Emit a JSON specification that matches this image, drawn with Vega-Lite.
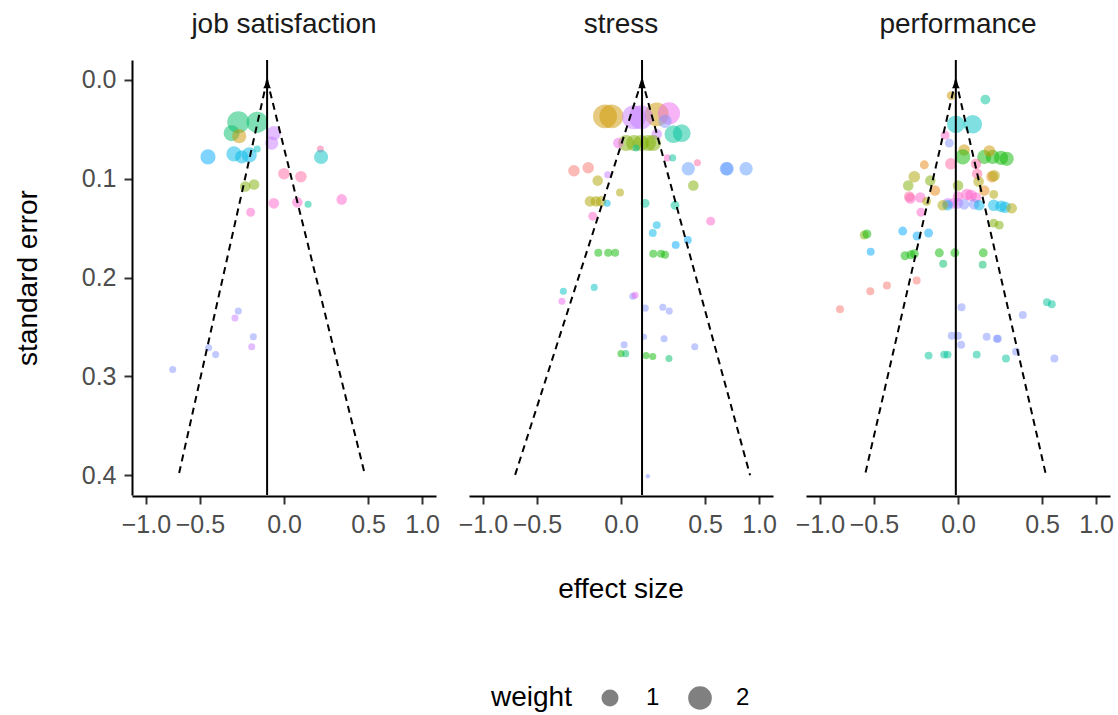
{
  "$schema": "https://vega.github.io/schema/vega-lite/v6.json",
  "padding": {"left": 14, "top": 11, "right": 5, "bottom": 5},
  "data": {"values": [
    {"panel":"job satisfaction","kind":"study","effect":-0.213,"se":0.043,"weight":1.74,"group":"g07"},
    {"panel":"job satisfaction","kind":"study","effect":-0.101,"se":0.043,"weight":1.60,"group":"g07"},
    {"panel":"job satisfaction","kind":"study","effect":-0.258,"se":0.054,"weight":0.87,"group":"g07"},
    {"panel":"job satisfaction","kind":"study","effect":-0.207,"se":0.057,"weight":0.67,"group":"g03"},
    {"panel":"job satisfaction","kind":"study","effect":-0.026,"se":0.054,"weight":0.67,"group":"g13"},
    {"panel":"job satisfaction","kind":"study","effect":-0.034,"se":0.064,"weight":0.58,"group":"g13"},
    {"panel":"job satisfaction","kind":"study","effect":-0.434,"se":0.078,"weight":0.77,"group":"g11"},
    {"panel":"job satisfaction","kind":"study","effect":-0.242,"se":0.075,"weight":0.77,"group":"g10"},
    {"panel":"job satisfaction","kind":"study","effect":-0.191,"se":0.078,"weight":0.58,"group":"g10"},
    {"panel":"job satisfaction","kind":"study","effect":-0.145,"se":0.076,"weight":0.77,"group":"g10"},
    {"panel":"job satisfaction","kind":"study","effect":-0.101,"se":0.070,"weight":0.11,"group":"g09"},
    {"panel":"job satisfaction","kind":"study","effect":0.155,"se":0.070,"weight":0.11,"group":"g16"},
    {"panel":"job satisfaction","kind":"study","effect":0.159,"se":0.078,"weight":0.67,"group":"g09"},
    {"panel":"job satisfaction","kind":"study","effect":0.000,"se":0.095,"weight":0.42,"group":"g16"},
    {"panel":"job satisfaction","kind":"study","effect":0.053,"se":0.098,"weight":0.42,"group":"g16"},
    {"panel":"job satisfaction","kind":"study","effect":-0.169,"se":0.108,"weight":0.34,"group":"g05"},
    {"panel":"job satisfaction","kind":"study","effect":-0.118,"se":0.106,"weight":0.34,"group":"g05"},
    {"panel":"job satisfaction","kind":"study","effect":-0.026,"se":0.125,"weight":0.34,"group":"g15"},
    {"panel":"job satisfaction","kind":"study","effect":0.038,"se":0.124,"weight":0.34,"group":"g15"},
    {"panel":"job satisfaction","kind":"study","effect":0.087,"se":0.126,"weight":0.11,"group":"g08"},
    {"panel":"job satisfaction","kind":"study","effect":0.295,"se":0.121,"weight":0.34,"group":"g15"},
    {"panel":"job satisfaction","kind":"study","effect":-0.137,"se":0.134,"weight":0.22,"group":"g15"},
    {"panel":"job satisfaction","kind":"study","effect":-0.213,"se":0.234,"weight":0.11,"group":"g12"},
    {"panel":"job satisfaction","kind":"study","effect":-0.235,"se":0.241,"weight":0.11,"group":"g13"},
    {"panel":"job satisfaction","kind":"study","effect":-0.122,"se":0.260,"weight":0.11,"group":"g12"},
    {"panel":"job satisfaction","kind":"study","effect":-0.131,"se":0.270,"weight":0.11,"group":"g13"},
    {"panel":"job satisfaction","kind":"study","effect":-0.429,"se":0.271,"weight":0.11,"group":"g12"},
    {"panel":"job satisfaction","kind":"study","effect":-0.374,"se":0.278,"weight":0.11,"group":"g12"},
    {"panel":"job satisfaction","kind":"study","effect":-0.740,"se":0.293,"weight":0.11,"group":"g12"},

    {"panel":"stress","kind":"study","effect":-0.049,"se":0.037,"weight":2.05,"group":"g03"},
    {"panel":"stress","kind":"study","effect":-0.024,"se":0.037,"weight":2.05,"group":"g03"},
    {"panel":"stress","kind":"study","effect":0.151,"se":0.035,"weight":2.05,"group":"g03"},
    {"panel":"stress","kind":"study","effect":0.228,"se":0.034,"weight":1.74,"group":"g14"},
    {"panel":"stress","kind":"study","effect":0.037,"se":0.038,"weight":2.05,"group":"g13"},
    {"panel":"stress","kind":"study","effect":0.067,"se":0.038,"weight":2.05,"group":"g13"},
    {"panel":"stress","kind":"study","effect":0.202,"se":0.042,"weight":0.58,"group":"g12"},
    {"panel":"stress","kind":"study","effect":0.317,"se":0.054,"weight":1.09,"group":"g08"},
    {"panel":"stress","kind":"study","effect":0.258,"se":0.055,"weight":1.09,"group":"g08"},
    {"panel":"stress","kind":"study","effect":0.151,"se":0.055,"weight":0.34,"group":"g13"},
    {"panel":"stress","kind":"study","effect":0.010,"se":0.064,"weight":0.87,"group":"g05"},
    {"panel":"stress","kind":"study","effect":0.037,"se":0.064,"weight":0.87,"group":"g05"},
    {"panel":"stress","kind":"study","effect":0.067,"se":0.064,"weight":0.87,"group":"g05"},
    {"panel":"stress","kind":"study","effect":0.102,"se":0.064,"weight":0.87,"group":"g05"},
    {"panel":"stress","kind":"study","effect":0.130,"se":0.064,"weight":0.87,"group":"g05"},
    {"panel":"stress","kind":"study","effect":-0.004,"se":0.064,"weight":0.34,"group":"g14"},
    {"panel":"stress","kind":"study","effect":0.045,"se":0.069,"weight":0.11,"group":"g08"},
    {"panel":"stress","kind":"study","effect":0.217,"se":0.079,"weight":0.11,"group":"g15"},
    {"panel":"stress","kind":"study","effect":0.253,"se":0.079,"weight":0.11,"group":"g08"},
    {"panel":"stress","kind":"study","effect":-0.222,"se":0.092,"weight":0.42,"group":"g01"},
    {"panel":"stress","kind":"study","effect":-0.134,"se":0.089,"weight":0.42,"group":"g01"},
    {"panel":"stress","kind":"study","effect":-0.038,"se":0.096,"weight":0.11,"group":"g13"},
    {"panel":"stress","kind":"study","effect":-0.083,"se":0.102,"weight":0.34,"group":"g04"},
    {"panel":"stress","kind":"study","effect":-0.001,"se":0.114,"weight":0.16,"group":"g04"},
    {"panel":"stress","kind":"study","effect":-0.124,"se":0.123,"weight":0.34,"group":"g04"},
    {"panel":"stress","kind":"study","effect":-0.092,"se":0.123,"weight":0.34,"group":"g04"},
    {"panel":"stress","kind":"study","effect":-0.067,"se":0.123,"weight":0.34,"group":"g04"},
    {"panel":"stress","kind":"study","effect":-0.040,"se":0.125,"weight":0.11,"group":"g10"},
    {"panel":"stress","kind":"study","effect":0.087,"se":0.125,"weight":0.22,"group":"g08"},
    {"panel":"stress","kind":"study","effect":0.269,"se":0.127,"weight":0.22,"group":"g08"},
    {"panel":"stress","kind":"study","effect":-0.109,"se":0.138,"weight":0.22,"group":"g15"},
    {"panel":"stress","kind":"study","effect":0.366,"se":0.090,"weight":0.58,"group":"g17"},
    {"panel":"stress","kind":"study","effect":0.437,"se":0.084,"weight":0.11,"group":"g16"},
    {"panel":"stress","kind":"study","effect":0.685,"se":0.090,"weight":0.58,"group":"g17"},
    {"panel":"stress","kind":"study","effect":0.693,"se":0.090,"weight":0.58,"group":"g17"},
    {"panel":"stress","kind":"study","effect":0.871,"se":0.090,"weight":0.58,"group":"g17"},
    {"panel":"stress","kind":"study","effect":0.405,"se":0.107,"weight":0.34,"group":"g05"},
    {"panel":"stress","kind":"study","effect":0.547,"se":0.143,"weight":0.22,"group":"g15"},
    {"panel":"stress","kind":"study","effect":0.151,"se":0.147,"weight":0.16,"group":"g10"},
    {"panel":"stress","kind":"study","effect":0.128,"se":0.155,"weight":0.16,"group":"g10"},
    {"panel":"stress","kind":"study","effect":0.362,"se":0.162,"weight":0.16,"group":"g11"},
    {"panel":"stress","kind":"study","effect":0.274,"se":0.167,"weight":0.16,"group":"g11"},
    {"panel":"stress","kind":"study","effect":-0.080,"se":0.175,"weight":0.16,"group":"g06"},
    {"panel":"stress","kind":"study","effect":-0.036,"se":0.175,"weight":0.16,"group":"g06"},
    {"panel":"stress","kind":"study","effect":-0.012,"se":0.175,"weight":0.16,"group":"g06"},
    {"panel":"stress","kind":"study","effect":0.131,"se":0.176,"weight":0.16,"group":"g06"},
    {"panel":"stress","kind":"study","effect":0.177,"se":0.176,"weight":0.16,"group":"g06"},
    {"panel":"stress","kind":"study","effect":0.202,"se":0.177,"weight":0.16,"group":"g06"},
    {"panel":"stress","kind":"study","effect":-0.295,"se":0.214,"weight":0.11,"group":"g09"},
    {"panel":"stress","kind":"study","effect":-0.101,"se":0.210,"weight":0.11,"group":"g09"},
    {"panel":"stress","kind":"study","effect":-0.305,"se":0.224,"weight":0.11,"group":"g14"},
    {"panel":"stress","kind":"study","effect":0.032,"se":0.219,"weight":0.11,"group":"g12"},
    {"panel":"stress","kind":"study","effect":0.041,"se":0.218,"weight":0.11,"group":"g14"},
    {"panel":"stress","kind":"study","effect":0.088,"se":0.231,"weight":0.11,"group":"g12"},
    {"panel":"stress","kind":"study","effect":0.188,"se":0.230,"weight":0.11,"group":"g12"},
    {"panel":"stress","kind":"study","effect":0.230,"se":0.234,"weight":0.11,"group":"g12"},
    {"panel":"stress","kind":"study","effect":0.082,"se":0.260,"weight":0.06,"group":"g12"},
    {"panel":"stress","kind":"study","effect":0.196,"se":0.262,"weight":0.11,"group":"g12"},
    {"panel":"stress","kind":"study","effect":0.005,"se":0.268,"weight":0.11,"group":"g12"},
    {"panel":"stress","kind":"study","effect":0.416,"se":0.270,"weight":0.11,"group":"g12"},
    {"panel":"stress","kind":"study","effect":0.000,"se":0.277,"weight":0.11,"group":"g06"},
    {"panel":"stress","kind":"study","effect":0.009,"se":0.277,"weight":0.11,"group":"g07"},
    {"panel":"stress","kind":"study","effect":0.092,"se":0.279,"weight":0.11,"group":"g06"},
    {"panel":"stress","kind":"study","effect":0.128,"se":0.280,"weight":0.11,"group":"g06"},
    {"panel":"stress","kind":"study","effect":0.228,"se":0.282,"weight":0.11,"group":"g07"},
    {"panel":"stress","kind":"study","effect":0.101,"se":0.401,"weight":0.0,"group":"g12"},

    {"panel":"performance","kind":"study","effect":-0.015,"se":0.016,"weight":0.22,"group":"g03"},
    {"panel":"performance","kind":"study","effect":0.104,"se":0.020,"weight":0.28,"group":"g08"},
    {"panel":"performance","kind":"study","effect":-0.003,"se":0.045,"weight":1.09,"group":"g09"},
    {"panel":"performance","kind":"study","effect":0.044,"se":0.045,"weight":1.21,"group":"g09"},
    {"panel":"performance","kind":"study","effect":-0.036,"se":0.056,"weight":0.22,"group":"g15"},
    {"panel":"performance","kind":"study","effect":-0.021,"se":0.064,"weight":0.22,"group":"g12"},
    {"panel":"performance","kind":"study","effect":0.013,"se":0.071,"weight":0.42,"group":"g03"},
    {"panel":"performance","kind":"study","effect":0.009,"se":0.078,"weight":0.77,"group":"g06"},
    {"panel":"performance","kind":"study","effect":0.098,"se":0.078,"weight":0.67,"group":"g06"},
    {"panel":"performance","kind":"study","effect":0.145,"se":0.078,"weight":0.67,"group":"g06"},
    {"panel":"performance","kind":"study","effect":0.196,"se":0.079,"weight":0.67,"group":"g06"},
    {"panel":"performance","kind":"study","effect":0.233,"se":0.080,"weight":0.67,"group":"g06"},
    {"panel":"performance","kind":"study","effect":0.126,"se":0.072,"weight":0.42,"group":"g03"},
    {"panel":"performance","kind":"study","effect":-0.016,"se":0.085,"weight":0.42,"group":"g16"},
    {"panel":"performance","kind":"study","effect":-0.139,"se":0.086,"weight":0.22,"group":"g02"},
    {"panel":"performance","kind":"study","effect":0.058,"se":0.085,"weight":0.34,"group":"g16"},
    {"panel":"performance","kind":"study","effect":0.063,"se":0.095,"weight":0.34,"group":"g16"},
    {"panel":"performance","kind":"study","effect":-0.200,"se":0.098,"weight":0.42,"group":"g04"},
    {"panel":"performance","kind":"study","effect":-0.106,"se":0.102,"weight":0.34,"group":"g05"},
    {"panel":"performance","kind":"study","effect":-0.240,"se":0.107,"weight":0.34,"group":"g05"},
    {"panel":"performance","kind":"study","effect":-0.082,"se":0.112,"weight":0.34,"group":"g02"},
    {"panel":"performance","kind":"study","effect":0.000,"se":0.107,"weight":0.34,"group":"g05"},
    {"panel":"performance","kind":"study","effect":0.070,"se":0.103,"weight":0.34,"group":"g04"},
    {"panel":"performance","kind":"study","effect":0.141,"se":0.098,"weight":0.42,"group":"g02"},
    {"panel":"performance","kind":"study","effect":0.153,"se":0.097,"weight":0.42,"group":"g04"},
    {"panel":"performance","kind":"study","effect":0.098,"se":0.112,"weight":0.34,"group":"g02"},
    {"panel":"performance","kind":"study","effect":-0.226,"se":0.120,"weight":0.34,"group":"g15"},
    {"panel":"performance","kind":"study","effect":-0.233,"se":0.118,"weight":0.34,"group":"g16"},
    {"panel":"performance","kind":"study","effect":-0.163,"se":0.119,"weight":0.34,"group":"g15"},
    {"panel":"performance","kind":"study","effect":-0.126,"se":0.123,"weight":0.22,"group":"g04"},
    {"panel":"performance","kind":"study","effect":0.000,"se":0.118,"weight":0.34,"group":"g15"},
    {"panel":"performance","kind":"study","effect":0.022,"se":0.116,"weight":0.42,"group":"g15"},
    {"panel":"performance","kind":"study","effect":0.037,"se":0.117,"weight":0.42,"group":"g15"},
    {"panel":"performance","kind":"study","effect":0.058,"se":0.119,"weight":0.34,"group":"g15"},
    {"panel":"performance","kind":"study","effect":-0.027,"se":0.125,"weight":0.34,"group":"g13"},
    {"panel":"performance","kind":"study","effect":-0.010,"se":0.125,"weight":0.34,"group":"g14"},
    {"panel":"performance","kind":"study","effect":0.000,"se":0.125,"weight":0.34,"group":"g13"},
    {"panel":"performance","kind":"study","effect":-0.027,"se":0.127,"weight":0.34,"group":"g10"},
    {"panel":"performance","kind":"study","effect":0.013,"se":0.126,"weight":0.34,"group":"g12"},
    {"panel":"performance","kind":"study","effect":0.050,"se":0.126,"weight":0.34,"group":"g12"},
    {"panel":"performance","kind":"study","effect":0.073,"se":0.127,"weight":0.34,"group":"g10"},
    {"panel":"performance","kind":"study","effect":-0.046,"se":0.127,"weight":0.34,"group":"g04"},
    {"panel":"performance","kind":"study","effect":0.151,"se":0.127,"weight":0.42,"group":"g10"},
    {"panel":"performance","kind":"study","effect":0.196,"se":0.128,"weight":0.42,"group":"g10"},
    {"panel":"performance","kind":"study","effect":0.222,"se":0.129,"weight":0.42,"group":"g10"},
    {"panel":"performance","kind":"study","effect":0.267,"se":0.130,"weight":0.34,"group":"g04"},
    {"panel":"performance","kind":"study","effect":0.151,"se":0.116,"weight":0.22,"group":"g04"},
    {"panel":"performance","kind":"study","effect":-0.159,"se":0.134,"weight":0.22,"group":"g15"},
    {"panel":"performance","kind":"study","effect":0.151,"se":0.145,"weight":0.22,"group":"g05"},
    {"panel":"performance","kind":"study","effect":0.185,"se":0.147,"weight":0.22,"group":"g05"},
    {"panel":"performance","kind":"study","effect":-0.582,"se":0.157,"weight":0.22,"group":"g05"},
    {"panel":"performance","kind":"study","effect":-0.559,"se":0.156,"weight":0.22,"group":"g06"},
    {"panel":"performance","kind":"study","effect":-0.278,"se":0.153,"weight":0.22,"group":"g11"},
    {"panel":"performance","kind":"study","effect":-0.183,"se":0.158,"weight":0.22,"group":"g11"},
    {"panel":"performance","kind":"study","effect":-0.115,"se":0.155,"weight":0.22,"group":"g11"},
    {"panel":"performance","kind":"study","effect":-0.527,"se":0.174,"weight":0.16,"group":"g11"},
    {"panel":"performance","kind":"study","effect":-0.262,"se":0.178,"weight":0.22,"group":"g06"},
    {"panel":"performance","kind":"study","effect":-0.222,"se":0.177,"weight":0.22,"group":"g06"},
    {"panel":"performance","kind":"study","effect":-0.200,"se":0.176,"weight":0.22,"group":"g06"},
    {"panel":"performance","kind":"study","effect":-0.061,"se":0.175,"weight":0.22,"group":"g06"},
    {"panel":"performance","kind":"study","effect":-0.005,"se":0.175,"weight":0.22,"group":"g06"},
    {"panel":"performance","kind":"study","effect":0.093,"se":0.175,"weight":0.22,"group":"g06"},
    {"panel":"performance","kind":"study","effect":-0.044,"se":0.186,"weight":0.16,"group":"g07"},
    {"panel":"performance","kind":"study","effect":0.090,"se":0.187,"weight":0.16,"group":"g07"},
    {"panel":"performance","kind":"study","effect":-0.185,"se":0.203,"weight":0.16,"group":"g01"},
    {"panel":"performance","kind":"study","effect":-0.395,"se":0.208,"weight":0.16,"group":"g01"},
    {"panel":"performance","kind":"study","effect":-0.530,"se":0.214,"weight":0.16,"group":"g01"},
    {"panel":"performance","kind":"study","effect":-0.803,"se":0.232,"weight":0.16,"group":"g01"},
    {"panel":"performance","kind":"study","effect":0.006,"se":0.230,"weight":0.16,"group":"g12"},
    {"panel":"performance","kind":"study","effect":0.347,"se":0.238,"weight":0.16,"group":"g12"},
    {"panel":"performance","kind":"study","effect":0.541,"se":0.225,"weight":0.16,"group":"g08"},
    {"panel":"performance","kind":"study","effect":0.582,"se":0.227,"weight":0.16,"group":"g08"},
    {"panel":"performance","kind":"study","effect":-0.013,"se":0.259,"weight":0.16,"group":"g12"},
    {"panel":"performance","kind":"study","effect":0.000,"se":0.259,"weight":0.16,"group":"g12"},
    {"panel":"performance","kind":"study","effect":0.005,"se":0.268,"weight":0.16,"group":"g12"},
    {"panel":"performance","kind":"study","effect":0.111,"se":0.260,"weight":0.16,"group":"g12"},
    {"panel":"performance","kind":"study","effect":0.170,"se":0.262,"weight":0.16,"group":"g12"},
    {"panel":"performance","kind":"study","effect":0.176,"se":0.262,"weight":0.16,"group":"g12"},
    {"panel":"performance","kind":"study","effect":0.298,"se":0.275,"weight":0.16,"group":"g12"},
    {"panel":"performance","kind":"study","effect":0.605,"se":0.282,"weight":0.16,"group":"g12"},
    {"panel":"performance","kind":"study","effect":-0.115,"se":0.279,"weight":0.16,"group":"g08"},
    {"panel":"performance","kind":"study","effect":-0.040,"se":0.278,"weight":0.16,"group":"g08"},
    {"panel":"performance","kind":"study","effect":-0.027,"se":0.278,"weight":0.16,"group":"g08"},
    {"panel":"performance","kind":"study","effect":0.061,"se":0.278,"weight":0.16,"group":"g08"},
    {"panel":"performance","kind":"study","effect":0.228,"se":0.282,"weight":0.16,"group":"g08"},

    {"panel":"job satisfaction","kind":"mean","effect":-0.053,"se":0},
    {"panel":"stress","kind":"mean","effect":0.072,"se":0},
    {"panel":"performance","kind":"mean","effect":-0.003,"se":0},

    {"panel":"job satisfaction","kind":"funnel","side":"L","effect":-0.053,"se":0},
    {"panel":"job satisfaction","kind":"funnel","side":"L","effect":-0.685,"se":0.4},
    {"panel":"job satisfaction","kind":"funnel","side":"R","effect":-0.053,"se":0},
    {"panel":"job satisfaction","kind":"funnel","side":"R","effect":0.475,"se":0.4},
    {"panel":"stress","kind":"funnel","side":"L","effect":0.072,"se":0},
    {"panel":"stress","kind":"funnel","side":"L","effect":-0.691,"se":0.4},
    {"panel":"stress","kind":"funnel","side":"R","effect":0.072,"se":0},
    {"panel":"stress","kind":"funnel","side":"R","effect":0.910,"se":0.4},
    {"panel":"performance","kind":"funnel","side":"L","effect":-0.003,"se":0},
    {"panel":"performance","kind":"funnel","side":"L","effect":-0.576,"se":0.4},
    {"panel":"performance","kind":"funnel","side":"R","effect":-0.003,"se":0},
    {"panel":"performance","kind":"funnel","side":"R","effect":0.533,"se":0.4}
  ]},
  "facet": {
    "column": {
      "field": "panel", "type": "nominal",
      "sort": ["job satisfaction", "stress", "performance"],
      "title": "effect size",
      "header": {
        "labelOrient": "top", "titleOrient": "bottom",
        "labelFont": "Liberation Sans", "labelFontSize": 28, "labelColor": "#1a1a1a", "labelPadding": 20,
        "titleFont": "Liberation Sans", "titleFontSize": 28, "titleColor": "#000000", "titleFontWeight": "normal", "titlePadding": 29
      }
    }
  },
  "spacing": 33,
  "spec": {
    "width": 304,
    "height": 435,
    "layer": [
      {
        "transform": [{"filter": "datum.kind === 'study'"}],
        "mark": {"type": "circle", "opacity": 0.5, "strokeWidth": 0},
        "encoding": {
          "x": {"field": "effect", "type": "quantitative",
                "scale": {"type": "pow", "exponent": 0.715, "domain": [-1.144, 1.144], "nice": false, "zero": false},
                "axis": {"values": [-1, -0.5, 0, 0.5, 1], "format": ".1f", "title": null, "labelOverlap": false, "labelBound": false}},
          "y": {"field": "se", "type": "quantitative",
                "scale": {"domain": [-0.02, 0.42], "reverse": true, "nice": false, "zero": false},
                "axis": {"values": [0, 0.1, 0.2, 0.3, 0.4], "format": ".1f", "title": "standard error"}},
          "size": {"field": "weight", "type": "quantitative", "title": "weight",
                   "scale": {"domain": [0, 2], "range": [20, 560], "zero": false},
                   "legend": {"values": [1, 2], "format": "d", "orient": "none", "legendX": 359, "legendY": 626}},
          "color": {"field": "group", "type": "nominal", "legend": null,
                    "scale": {"domain": ["g01","g02","g03","g04","g05","g06","g07","g08","g09","g10","g11","g12","g13","g14","g15","g16","g17"],
                              "range": ["#F8766D","#E68613","#CD9600","#ABA300","#7CAE00","#0CB702","#00BE67","#00C19A","#00BFC4","#00B8E7","#00A9FF","#8494FF","#C77CFF","#ED68ED","#FF61CC","#FF68A1","#619CFF"]}}
        }
      },
      {
        "transform": [{"filter": "datum.kind === 'funnel'"}],
        "mark": {"type": "line", "color": "#000000", "strokeWidth": 2, "strokeDash": [7, 5]},
        "encoding": {
          "x": {"field": "effect", "type": "quantitative"},
          "y": {"field": "se", "type": "quantitative"},
          "detail": {"field": "side"},
          "order": {"field": "se"}
        }
      },
      {
        "transform": [{"filter": "datum.kind === 'mean'"}],
        "mark": {"type": "rule", "color": "#000000", "strokeWidth": 2},
        "encoding": {
          "x": {"field": "effect", "type": "quantitative"}
        }
      },
      {
        "transform": [{"filter": "datum.kind === 'mean'"}],
        "mark": {"type": "point", "shape": "triangle-up", "filled": true, "color": "#000000", "opacity": 1, "size": 60, "yOffset": 5},
        "encoding": {
          "x": {"field": "effect", "type": "quantitative"},
          "y": {"field": "se", "type": "quantitative"}
        }
      }
    ]
  },
  "config": {
    "view": {"stroke": null},
    "axis": {
      "grid": false, "domainColor": "#000000", "domainWidth": 2,
      "tickColor": "#333333", "tickWidth": 2, "tickSize": 8,
      "labelColor": "#4d4d4d", "labelFont": "Liberation Sans", "labelFontSize": 25, "labelPadding": 8,
      "titleFont": "Liberation Sans", "titleFontSize": 28, "titleFontWeight": "normal", "titleColor": "#000000"
    },
    "axisY": {"titlePadding": 39},
    "legend": {
      "direction": "horizontal", "titleOrient": "left", "titlePadding": 26,
      "titleFont": "Liberation Sans", "titleFontSize": 28, "titleFontWeight": "normal", "titleColor": "#000000",
      "labelFont": "Liberation Sans", "labelFontSize": 24, "labelColor": "#000000",
      "symbolFillColor": "#808080", "symbolOpacity": 1, "symbolStrokeWidth": 0, "columnPadding": 28, "labelOffset": 24
    }
  }
}
